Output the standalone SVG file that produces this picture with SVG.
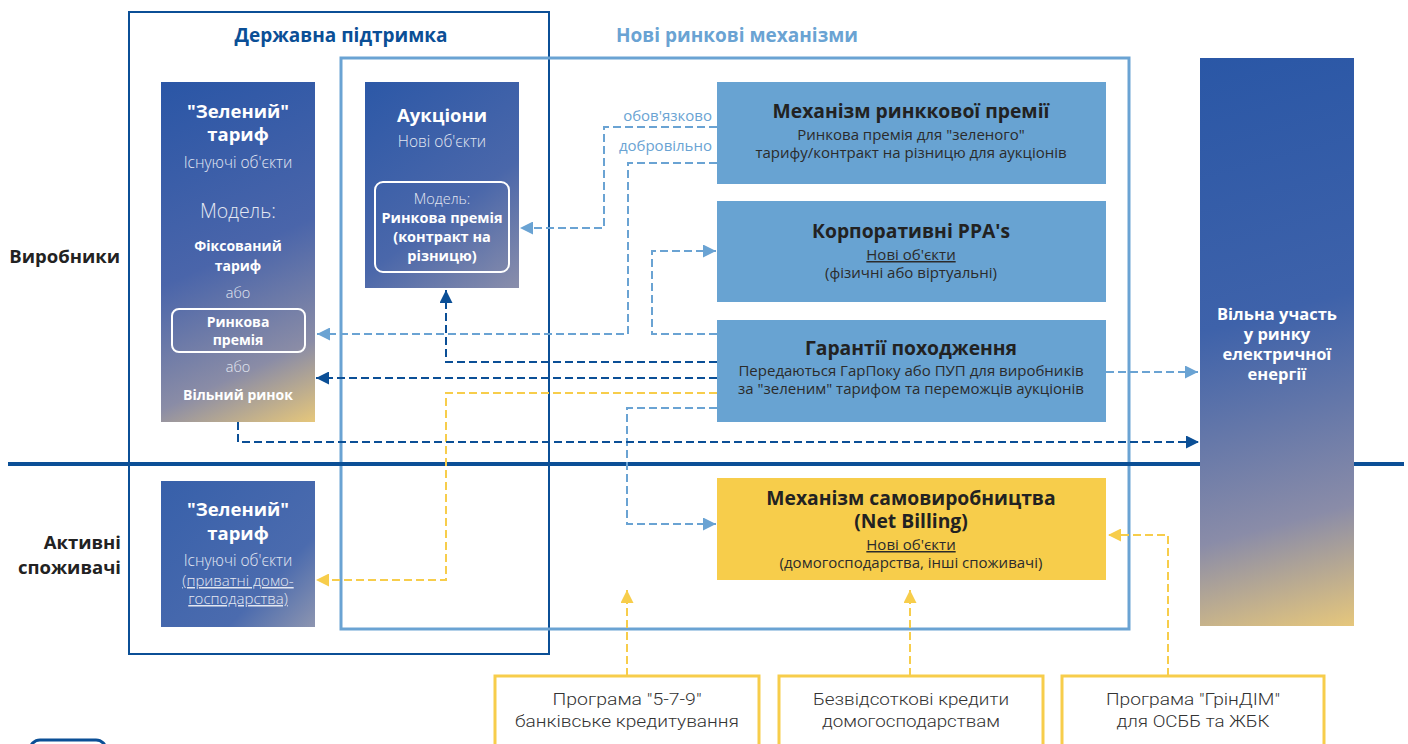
<svg xmlns="http://www.w3.org/2000/svg" width="1408" height="744" viewBox="0 0 1408 744">
<defs>
<style>
.t{font-family:"Open Sans","Noto Sans","Liberation Sans",sans-serif;text-anchor:middle}
.w{fill:#ffffff}
.wl{fill:#e4e8f2;font-weight:300}
.b{font-weight:700}
.dk{fill:#222222}
.dl{fill:#2b2b2b;font-weight:400}
.frame{fill:none}
.con{fill:none;stroke-width:2;stroke-dasharray:8 4}
.cl{stroke:#6aa3d3}
.cd{stroke:#0b4f96}
.cy{stroke:#f7cd4b}
.mbox{fill:#68a3d2}
.ybox{fill:#f7cd4b}
.pbox{fill:#ffffff;stroke:#f7cd4b;stroke-width:3}
.pt{font-family:"Roboto","Open Sans",sans-serif;font-weight:300;fill:#333333;font-size:17px;text-anchor:middle}
</style>
<linearGradient id="g1" gradientUnits="userSpaceOnUse" x1="161" y1="82" x2="315" y2="422">
<stop offset="0" stop-color="#2a56a6"/>
<stop offset="0.5" stop-color="#4a65aa"/>
<stop offset="0.8" stop-color="#8a8ca6"/>
<stop offset="1" stop-color="#e6c77b"/>
</linearGradient>
<linearGradient id="g2" gradientUnits="userSpaceOnUse" x1="365" y1="82" x2="519" y2="288">
<stop offset="0" stop-color="#2c58a7"/>
<stop offset="0.6" stop-color="#4a67aa"/>
<stop offset="1" stop-color="#8a8eab"/>
</linearGradient>
<linearGradient id="g3" gradientUnits="userSpaceOnUse" x1="161" y1="481" x2="315" y2="627">
<stop offset="0" stop-color="#3760aa"/>
<stop offset="0.7" stop-color="#4b6bae"/>
<stop offset="1" stop-color="#8d95b0"/>
</linearGradient>
<linearGradient id="g4" gradientUnits="userSpaceOnUse" x1="1200" y1="58" x2="1354" y2="626">
<stop offset="0" stop-color="#2a57a6"/>
<stop offset="0.45" stop-color="#3e62aa"/>
<stop offset="0.8" stop-color="#8a8ca8"/>
<stop offset="1" stop-color="#e6c77c"/>
</linearGradient>
<marker id="aL" viewBox="0 0 10 10" refX="10" refY="5" markerWidth="15" markerHeight="13" markerUnits="userSpaceOnUse" orient="auto"><path d="M0,0 L10,5 L0,10z" fill="#6aa3d3"/></marker>
<marker id="aD" viewBox="0 0 10 10" refX="10" refY="5" markerWidth="15" markerHeight="13" markerUnits="userSpaceOnUse" orient="auto"><path d="M0,0 L10,5 L0,10z" fill="#0b4f96"/></marker>
<marker id="aY" viewBox="0 0 10 10" refX="10" refY="5" markerWidth="15" markerHeight="13" markerUnits="userSpaceOnUse" orient="auto"><path d="M0,0 L10,5 L0,10z" fill="#f7cd4b"/></marker>
</defs>
<rect width="1408" height="744" fill="#ffffff"/>

<g id="frames">
<rect class="frame" x="129" y="12" width="420" height="642" stroke="#0b4f96" stroke-width="2"/>
<rect class="frame" x="341" y="58" width="788" height="571" stroke="#6aa3d3" stroke-width="3"/>
<line x1="8" y1="464" x2="1404" y2="464" stroke="#0b4f96" stroke-width="4"/>
<text class="t b" x="341" y="42" font-size="19" fill="#0b4f96">Державна підтримка</text>
<text class="t b" x="737" y="42" font-size="19" fill="#6aa3d3">Нові ринкові механізми</text>
<text class="t b dk" x="120" y="263" font-size="18.5" style="text-anchor:end">Виробники</text>
<text class="t b dk" x="121" y="549" font-size="18.5" style="text-anchor:end">Активні</text>
<text class="t b dk" x="121" y="574" font-size="18.5" style="text-anchor:end">споживачі</text>
<rect x="30" y="740" width="76" height="30" rx="10" fill="none" stroke="#0b4f96" stroke-width="3"/>
</g>

<g id="connectors">
<polyline class="con cl" points="717,127 604,127 604,228 520,228" marker-end="url(#aL)"/>
<text class="t" x="712" y="121" font-size="15" fill="#6aa3d3" style="text-anchor:end;font-weight:400">обов'язково</text>
<polyline class="con cl" points="717,163 628,163 628,334 317,334" marker-end="url(#aL)"/>
<text class="t" x="712" y="151" font-size="15" fill="#6aa3d3" style="text-anchor:end;font-weight:400">добровільно</text>
<polyline class="con cl" points="717,334 652,334 652,251 716,251" marker-end="url(#aL)"/>
<polyline class="con cd" points="717,362 446,362 446,290" marker-end="url(#aD)"/>
<polyline class="con cd" points="717,378 316,378" marker-end="url(#aD)"/>
<polyline class="con cy" points="717,393 446,393 446,580 316,580" marker-end="url(#aY)"/>
<polyline class="con cl" points="717,408 627,408 627,524 716,524" marker-end="url(#aL)"/>
<polyline class="con cd" points="238,422 238,442 1199,442" marker-end="url(#aD)"/>
<polyline class="con cl" points="1106,372 1198,372" marker-end="url(#aL)"/>
<polyline class="con cy" points="627,676 627,590" marker-end="url(#aY)"/>
<polyline class="con cy" points="910,676 910,590" marker-end="url(#aY)"/>
<polyline class="con cy" points="1168,676 1168,535 1108,535" marker-end="url(#aY)"/>
</g>

<g id="green-tariff-producers">
<rect x="161" y="82" width="154" height="340" fill="url(#g1)"/>
<text class="t b w" x="238" y="118" font-size="18.5">"Зелений"</text>
<text class="t b w" x="238" y="141" font-size="18.5">тариф</text>
<text class="t wl" x="238" y="168" font-size="15.5">Існуючі об'єкти</text>
<text class="t wl" x="238" y="218" font-size="19.5">Модель:</text>
<text class="t b w" x="238" y="251" font-size="14">Фіксований</text>
<text class="t b w" x="238" y="271" font-size="14">тариф</text>
<text class="t wl" x="238" y="298" font-size="14.5">або</text>
<rect x="172" y="309" width="133" height="43" rx="7" fill="none" stroke="#ffffff" stroke-width="2"/>
<text class="t b w" x="238" y="327" font-size="14">Ринкова</text>
<text class="t b w" x="238" y="345" font-size="14">премія</text>
<text class="t wl" x="238" y="372" font-size="14.5">або</text>
<text class="t b w" x="238" y="400" font-size="14">Вільний ринок</text>
</g>

<g id="auctions">
<rect x="365" y="82" width="154" height="206" fill="url(#g2)"/>
<text class="t b w" x="442" y="122" font-size="18.5">Аукціони</text>
<text class="t wl" x="442" y="147" font-size="15.5">Нові об'єкти</text>
<rect x="375" y="182" width="134" height="90" rx="8" fill="none" stroke="#ffffff" stroke-width="2"/>
<text class="t wl" x="442" y="204" font-size="14.5">Модель:</text>
<text class="t b w" x="442" y="223" font-size="14.5">Ринкова премія</text>
<text class="t b w" x="442" y="242" font-size="14.5">(контракт на</text>
<text class="t b w" x="442" y="261" font-size="14.5">різницю)</text>
</g>

<g id="market-premium">
<rect class="mbox" x="717" y="82" width="389" height="102"/>
<text class="t b dk" x="911" y="118" font-size="19.3">Механізм ринккової премії</text>
<text class="t dl" x="911" y="140" font-size="15">Ринкова премія для "зеленого"</text>
<text class="t dl" x="911" y="158" font-size="15">тарифу/контракт на різницю для аукціонів</text>
</g>

<g id="corporate-ppa">
<rect class="mbox" x="717" y="201" width="389" height="101"/>
<text class="t b dk" x="911" y="238" font-size="19.3">Корпоративні PPA's</text>
<text class="t dl" x="911" y="260" font-size="15" text-decoration="underline">Нові об'єкти</text>
<text class="t dl" x="911" y="278" font-size="15">(фізичні або віртуальні)</text>
</g>

<g id="guarantees">
<rect class="mbox" x="717" y="320" width="389" height="102"/>
<text class="t b dk" x="911" y="355" font-size="19.3">Гарантії походження</text>
<text class="t dl" x="911" y="376" font-size="15">Передаються ГарПоку або ПУП для виробників</text>
<text class="t dl" x="911" y="394" font-size="15">за "зеленим" тарифом та переможців аукціонів</text>
</g>

<g id="net-billing">
<rect class="ybox" x="717" y="478" width="389" height="102"/>
<text class="t b dk" x="911" y="505" font-size="19.3">Механізм самовиробництва</text>
<text class="t b dk" x="911" y="528" font-size="19.3">(Net Billing)</text>
<text class="t dl" x="911" y="550" font-size="15" text-decoration="underline">Нові об'єкти</text>
<text class="t dl" x="911" y="568" font-size="15">(домогосподарства, інші споживачі)</text>
</g>

<g id="green-tariff-consumers">
<rect x="161" y="481" width="154" height="146" fill="url(#g3)"/>
<text class="t b w" x="238" y="516" font-size="18.5">"Зелений"</text>
<text class="t b w" x="238" y="540" font-size="18.5">тариф</text>
<text class="t wl" x="238" y="566" font-size="15.5">Існуючі об'єкти</text>
<text class="t wl" x="238" y="586" font-size="15" text-decoration="underline">(приватні домо-</text>
<text class="t wl" x="238" y="604" font-size="15" text-decoration="underline">господарства)</text>
</g>

<g id="free-market">
<rect x="1200" y="58" width="154" height="568" fill="url(#g4)"/>
<text class="t b w" x="1277" y="320" font-size="16.5">Вільна участь</text>
<text class="t b w" x="1277" y="340" font-size="16.5">у ринку</text>
<text class="t b w" x="1277" y="360" font-size="16.5">електричної</text>
<text class="t b w" x="1277" y="380" font-size="16.5">енергії</text>
</g>

<g id="program-579">
<rect class="pbox" x="495" y="676" width="264" height="80"/>
<text class="pt" x="627" y="705" textLength="149" lengthAdjust="spacingAndGlyphs">Програма "5-7-9"</text>
<text class="pt" x="627" y="727" textLength="224" lengthAdjust="spacingAndGlyphs">банківське кредитування</text>
</g>
<g id="interest-free-loans">
<rect class="pbox" x="779" y="676" width="264" height="80"/>
<text class="pt" x="911" y="705" textLength="196" lengthAdjust="spacingAndGlyphs">Безвідсоткові кредити</text>
<text class="pt" x="911" y="727" textLength="178" lengthAdjust="spacingAndGlyphs">домогосподарствам</text>
</g>
<g id="grindim">
<rect class="pbox" x="1062" y="676" width="262" height="80"/>
<text class="pt" x="1193" y="705" textLength="174" lengthAdjust="spacingAndGlyphs">Програма "ГрінДІМ"</text>
<text class="pt" x="1193" y="727" textLength="153" lengthAdjust="spacingAndGlyphs">для ОСББ та ЖБК</text>
</g>
</svg>
